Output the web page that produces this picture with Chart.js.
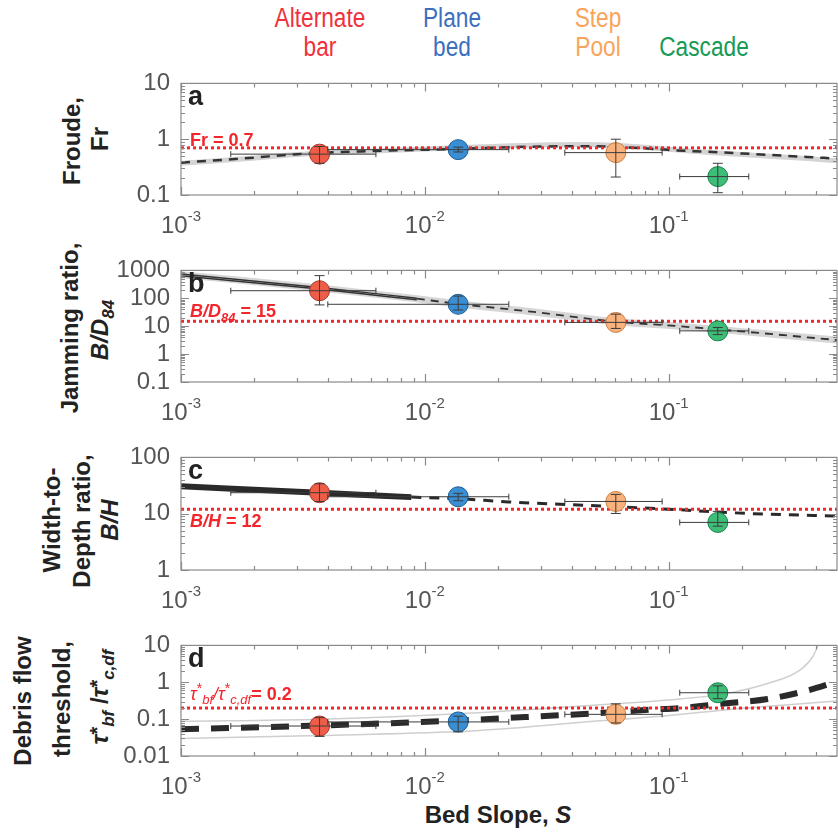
<!DOCTYPE html>
<html>
<head>
<meta charset="utf-8">
<title>Channel morphology vs bed slope</title>
<script src="https://cdn.jsdelivr.net/npm/chart.js@4.4.0/dist/chart.umd.min.js"></script>
<style>
  body { margin:0; background:#fff; width:838px; height:837px; overflow:hidden; position:relative;
         font-family:'Liberation Sans', Arial, sans-serif; }
  canvas { position:absolute; left:0; }
  .cat { position:absolute; transform:translateX(-50%) scaleX(0.84); text-align:center; white-space:nowrap;
         font-family:'Liberation Sans', Arial, sans-serif; font-size:27px; line-height:29px; }
  .yt { position:absolute; white-space:nowrap; font-weight:bold; font-size:24px; line-height:24px; color:#222;
        transform:translate(-50%,-50%) rotate(-90deg); }
  .yt sub, .xt sub { font-size:17px; vertical-align:-6px; line-height:0; }
  .yt sup { font-size:20px; vertical-align:4px; line-height:0; }
  .xt { position:absolute; white-space:nowrap; font-weight:bold; font-size:24px; color:#222; transform:translate(-50%,-50%); }
</style>
</head>
<body>
<div class="cat" style="left:320px;top:4px;color:#f0313b">Alternate<br>bar</div>
<div class="cat" style="left:452px;top:4px;color:#3c6fbf">Plane<br>bed</div>
<div class="cat" style="left:598px;top:4px;color:#f9a45a">Step<br>Pool</div>
<div class="cat" style="left:704px;top:33px;color:#169a58">Cascade</div>

<div class="yt" style="left:72px;top:141px">Froude,</div>
<div class="yt" style="left:100px;top:139px">Fr</div>
<div class="yt" style="left:70px;top:328px">Jamming ratio,</div>
<div class="yt" style="left:100px;top:330px"><i>B/D</i><sub><i>84</i></sub></div>
<div class="yt" style="left:52px;top:520px">Width-to-</div>
<div class="yt" style="left:82px;top:521px">Depth ratio,</div>
<div class="yt" style="left:110px;top:520px"><i>B/H</i></div>
<div class="yt" style="left:23px;top:701px">Debris flow</div>
<div class="yt" style="left:62px;top:699px">threshold,</div>
<div class="yt" style="left:100px;top:697px"><i>τ</i><sup>*</sup><sub><i>bf</i></sub> /<i>τ</i><sup>*</sup><sub><i>c,df</i></sub></div>
<div class="xt" style="left:498px;top:815px">Bed Slope, <i>S</i></div>

<canvas id="pa" width="838" height="187"></canvas>
<canvas id="pb" width="838" height="187"></canvas>
<canvas id="pc" width="838" height="188"></canvas>
<canvas id="pd" width="838" height="186"></canvas>

<script>
// categories and slopes (x values, with x error bars)
const catNames = ['Alternate bar', 'Plane bed', 'Step Pool', 'Cascade'];
const slope   = [0.0037, 0.0137, 0.0607, 0.159];
const slopeLo = [0.0016, 0.0040, 0.0375, 0.111];
const slopeHi = [0.0063, 0.0221, 0.094, 0.213];

// a: Froude number
const froude   = [0.54, 0.65, 0.575, 0.214];
const froudeLo = [0.37, 0.59, 0.21, 0.11];
const froudeHi = [0.74, 0.72, 1.0, 0.37];
const frFitS = [0.001, 0.0019, 0.003, 0.0058, 0.0137, 0.02, 0.03, 0.045, 0.06, 0.092, 0.108, 0.138, 0.2, 0.37, 0.49];
const frFit  = [0.38, 0.46, 0.54, 0.61, 0.67, 0.71, 0.74, 0.75, 0.73, 0.66, 0.63, 0.60, 0.555, 0.48, 0.45];
const frBand = [0.37, 0.45, 0.53, 0.61, 0.70, 0.75, 0.79, 0.80, 0.78, 0.68, 0.64, 0.59, 0.53, 0.45, 0.41];

// b: jamming ratio B/D84
const jam   = [187, 61, 13.7, 6.8];
const jamLo = [58, 38, 8.3, 5.0];
const jamHi = [650, 120, 27, 9.0];
const jamSolidS  = [0.001, 0.0037, 0.00927];
const jamSolidHi = [740, 245, 100];
const jamSolidLo = [640, 215, 88];
const jamFitS = [0.001, 0.0037, 0.00927, 0.0137, 0.028, 0.0607, 0.099, 0.159, 0.49];
const jamFit  = [700, 235, 97, 63, 32.5, 14.5, 10.7, 7.7, 3.2];
const jamDashS = [0.00927, 0.0137, 0.028, 0.0607, 0.099, 0.159, 0.49];
const jamDash  = [97, 63, 32.5, 14.5, 10.7, 7.7, 3.2];

// c: width-to-depth ratio B/H
const bh   = [23.6, 20, 16.5, 7.0];
const bhLo = [16.5, 17, 10.1, 6.0];
const bhHi = [34, 23, 22, 11];
const bhSolidS = [0.001, 0.0037, 0.0088];
const bhSolid  = [30.7, 23.6, 19.7];
const bhDashS = [0.0088, 0.0137, 0.022, 0.047, 0.094, 0.211, 0.49];
const bhDash  = [19.7, 18.5, 16.2, 14, 12.2, 10.1, 9.1];

// d: debris flow threshold
const tau   = [0.065, 0.084, 0.135, 0.52];
const tauLo = [0.034, 0.045, 0.079, 0.36];
const tauHi = [0.11, 0.12, 0.26, 0.80];
const tauFitS = [0.001, 0.0037, 0.0137, 0.03, 0.06, 0.08, 0.118, 0.173, 0.255, 0.375, 0.49];
const tauFit  = [0.053, 0.067, 0.092, 0.12, 0.155, 0.177, 0.206, 0.27, 0.35, 0.61, 1.05];
const tauUpS = [0.001, 0.0037, 0.0137, 0.03, 0.06, 0.1, 0.173, 0.25, 0.344, 0.39, 0.41];
const tauUp  = [0.087, 0.10, 0.14, 0.19, 0.26, 0.33, 0.5, 0.9, 2.1, 5, 10];
const tauLowS = [0.001, 0.0037, 0.0137, 0.03, 0.052, 0.1, 0.173, 0.3, 0.49];
const tauLow  = [0.030, 0.036, 0.046, 0.066, 0.09, 0.125, 0.18, 0.24, 0.31];

const xMin = 0.001, xMax = 0.49;
const catFill = ['#ee5d47', '#3a8ed3', '#f9b27b', '#3dbd78'];
const catEdge = ['#a8362a', '#1d5c94', '#c98043', '#16824a'];
const thrColor = '#f2262b';

const pts = (xs, ys) => xs.map((s, i) => ({ x: s, y: ys[i] }));

function isNice(v) {
  const e = Math.floor(Math.log10(v) + 1e-9);
  const m = v / Math.pow(10, e);
  return Math.abs(m - Math.round(m)) < 1e-6;
}
function isPow10(v) {
  const l = Math.log10(v);
  return Math.abs(l - Math.round(l)) < 1e-9;
}

function drawRich(ctx, x, y, segs, color) {
  ctx.fillStyle = color;
  ctx.textBaseline = 'alphabetic';
  ctx.textAlign = 'left';
  let cx = x;
  segs.forEach(s => {
    ctx.font = (s.i ? 'italic ' : '') + (s.b ? 'bold ' : '') + (s.s || 18) + "px 'Liberation Sans', Arial, sans-serif";
    ctx.fillText(s.t, cx, y + (s.dy || 0));
    cx += ctx.measureText(s.t).width;
  });
}

// error bars, drawn over the markers
const errorBars = {
  id: 'errorBars',
  afterDatasetsDraw(chart, args, opts) {
    const { ctx, scales: { x, y } } = chart;
    ctx.save();
    ctx.strokeStyle = '#3c3c3c';
    ctx.lineWidth = 1;
    slope.forEach((s, i) => {
      const px = x.getPixelForValue(s), py = y.getPixelForValue(opts.val[i]);
      const x0 = x.getPixelForValue(slopeLo[i]), x1 = x.getPixelForValue(slopeHi[i]);
      const y0 = y.getPixelForValue(opts.lo[i]), y1 = y.getPixelForValue(opts.hi[i]);
      ctx.beginPath();
      ctx.moveTo(x0, py); ctx.lineTo(x1, py);
      ctx.moveTo(x0, py - 3); ctx.lineTo(x0, py + 3);
      ctx.moveTo(x1, py - 3); ctx.lineTo(x1, py + 3);
      ctx.moveTo(px, y0); ctx.lineTo(px, y1);
      ctx.moveTo(px - 5, y0); ctx.lineTo(px + 5, y0);
      ctx.moveTo(px - 5, y1); ctx.lineTo(px + 5, y1);
      ctx.stroke();
    });
    ctx.restore();
  }
};

// frame, inward ticks, x labels, panel letter, threshold label
const deco = {
  id: 'deco',
  afterDraw(chart, args, opts) {
    const { ctx, chartArea: a, scales: { x, y } } = chart;
    ctx.save();
    ctx.strokeStyle = '#8a8a8a';
    ctx.lineWidth = 1.2;
    ctx.strokeRect(a.left, a.top, a.right - a.left, a.bottom - a.top);
    ctx.beginPath();
    x.ticks.forEach(t => {
      if (!isNice(t.value)) return;
      const p = Math.round(x.getPixelForValue(t.value)) + 0.5;
      const len = isPow10(t.value) ? 8 : 4;
      ctx.moveTo(p, a.bottom); ctx.lineTo(p, a.bottom - len);
      ctx.moveTo(p, a.top); ctx.lineTo(p, a.top + len);
    });
    y.ticks.forEach(t => {
      if (!isNice(t.value)) return;
      const p = Math.round(y.getPixelForValue(t.value)) + 0.5;
      const len = isPow10(t.value) ? 8 : 4;
      ctx.moveTo(a.left, p); ctx.lineTo(a.left + len, p);
      ctx.moveTo(a.right, p); ctx.lineTo(a.right - len, p);
    });
    ctx.stroke();

    // x tick labels 10^n
    ctx.fillStyle = '#555';
    x.ticks.forEach(t => {
      if (!isPow10(t.value)) return;
      const p = x.getPixelForValue(t.value);
      const e = String(Math.round(Math.log10(t.value)));
      ctx.font = "24px 'Liberation Sans', Arial, sans-serif";
      const w1 = ctx.measureText('10').width;
      ctx.font = "15px 'Liberation Sans', Arial, sans-serif";
      const w2 = ctx.measureText(e).width;
      const x0 = p - (w1 + w2) / 2;
      ctx.textAlign = 'left';
      ctx.textBaseline = 'alphabetic';
      ctx.font = "24px 'Liberation Sans', Arial, sans-serif";
      ctx.fillText('10', x0, a.bottom + 38);
      ctx.font = "15px 'Liberation Sans', Arial, sans-serif";
      ctx.fillText(e, x0 + w1, a.bottom + 26);
    });

    // panel letter
    ctx.fillStyle = '#222';
    ctx.font = "bold 27px 'Liberation Sans', Arial, sans-serif";
    ctx.fillText(opts.letter, a.left + 7, a.top + 22);

    // threshold label
    const ly = y.getPixelForValue(opts.thr) + opts.labelDy;
    drawRich(ctx, a.left + 9, ly, opts.label, thrColor);
    ctx.restore();
  }
};

function makePanel(p) {
  const areaH = p.bottom - p.top;
  const cv = document.getElementById(p.id);
  const padTop = 16, padBottom = 50;
  cv.style.top = (p.top - padTop) + 'px';
  cv.height = areaH + padTop + padBottom;
  cv.style.height = cv.height + 'px';
  cv.style.width = '838px';

  const datasets = [
    {
      label: 'Morphology',
      data: pts(slope, p.vals),
      pointRadius: 10,
      pointHoverRadius: 10,
      pointBackgroundColor: catFill,
      pointBorderColor: catEdge,
      pointBorderWidth: 1,
      showLine: false,
      order: 0,
      clip: false
    },
    {
      label: 'Threshold',
      data: [{ x: xMin, y: p.thr }, { x: xMax, y: p.thr }],
      showLine: true,
      borderColor: thrColor,
      borderWidth: 3,
      borderDash: [3, 3],
      pointRadius: 0,
      order: 1
    }
  ];
  p.curves.forEach((c, k) => {
    datasets.push({
      label: 'curve' + k,
      data: pts(c.xs, c.ys),
      showLine: true,
      borderColor: c.color,
      borderWidth: c.width,
      borderDash: c.dash || [],
      cubicInterpolationMode: 'monotone',
      pointRadius: 0,
      order: 10 - k
    });
  });

  new Chart(cv, {
    type: 'scatter',
    data: { datasets },
    options: {
      responsive: false,
      animation: false,
      events: [],
      layout: { autoPadding: false, padding: { top: padTop, bottom: padBottom, left: 0, right: 1 } },
      plugins: {
        legend: { display: false },
        tooltip: { enabled: false },
        errorBars: { val: p.vals, lo: p.lo, hi: p.hi },
        deco: { letter: p.letter, thr: p.thr, label: p.label, labelDy: p.labelDy }
      },
      scales: {
        x: {
          type: 'logarithmic', min: xMin, max: xMax,
          grid: { display: false, drawTicks: false },
          border: { display: false },
          ticks: { display: false },
          afterFit: s => { s.height = 0; }
        },
        y: {
          type: 'logarithmic', min: p.yMin, max: p.yMax,
          grid: { display: false, drawTicks: false },
          border: { display: false },
          afterFit: s => { s.width = 181; },
          ticks: {
            autoSkip: false,
            padding: 11,
            color: '#555',
            font: { family: "'Liberation Sans', Arial, sans-serif", size: 24 },
            callback: v => isPow10(v) ? String(v) : ''
          }
        }
      }
    },
    plugins: [errorBars, deco]
  });
}

const panels = [
  { id: 'pa', top: 74, bottom: 195, yMin: 0.1, yMax: 10, letter: 'a',
    vals: froude, lo: froudeLo, hi: froudeHi, thr: 0.7, labelDy: -2,
    label: [{ t: 'Fr = 0.7', b: 1 }],
    curves: [
      { xs: frFitS, ys: frBand, color: '#d4d4d4', width: 5 },
      { xs: frFitS, ys: frFit, color: '#333', width: 2.5, dash: [9, 7] }
    ] },
  { id: 'pb', top: 261, bottom: 382, yMin: 0.1, yMax: 1000, letter: 'b',
    vals: jam, lo: jamLo, hi: jamHi, thr: 15, labelDy: -4,
    label: [{ t: 'B/D', b: 1, i: 1 }, { t: '84', b: 1, i: 1, s: 13, dy: 5 }, { t: ' = 15', b: 1 }],
    curves: [
      { xs: jamFitS, ys: jamFit, color: '#d6d6d6', width: 7 },
      { xs: jamSolidS, ys: jamSolidHi, color: '#333', width: 1.5 },
      { xs: jamSolidS, ys: jamSolidLo, color: '#333', width: 1.5 },
      { xs: jamDashS, ys: jamDash, color: '#333', width: 1.8, dash: [8, 6] }
    ] },
  { id: 'pc', top: 448, bottom: 570, yMin: 1, yMax: 100, letter: 'c',
    vals: bh, lo: bhLo, hi: bhHi, thr: 12, labelDy: 18,
    label: [{ t: 'B/H', b: 1, i: 1 }, { t: ' = 12', b: 1 }],
    curves: [
      { xs: bhSolidS, ys: bhSolid, color: '#2a2a2a', width: 6 },
      { xs: bhDashS, ys: bhDash, color: '#2a2a2a', width: 3, dash: [10, 8] }
    ] },
  { id: 'pd', top: 636, bottom: 756, yMin: 0.01, yMax: 10, letter: 'd',
    vals: tau, lo: tauLo, hi: tauHi, thr: 0.2, labelDy: -8,
    label: [{ t: 'τ', i: 1 }, { t: '*', s: 14, dy: -7 }, { t: 'bf', i: 1, s: 13, dy: 4 }, { t: '/τ', i: 1 },
            { t: '*', s: 14, dy: -7 }, { t: 'c,df', i: 1, s: 13, dy: 4 }, { t: '= 0.2', b: 1 }],
    curves: [
      { xs: tauUpS, ys: tauUp, color: '#cfcfcf', width: 1.5 },
      { xs: tauLowS, ys: tauLow, color: '#cfcfcf', width: 1.5 },
      { xs: tauFitS, ys: tauFit, color: '#2a2a2a', width: 6, dash: [18, 12] }
    ] }
];

panels.forEach(makePanel);
</script>
</body>
</html>
